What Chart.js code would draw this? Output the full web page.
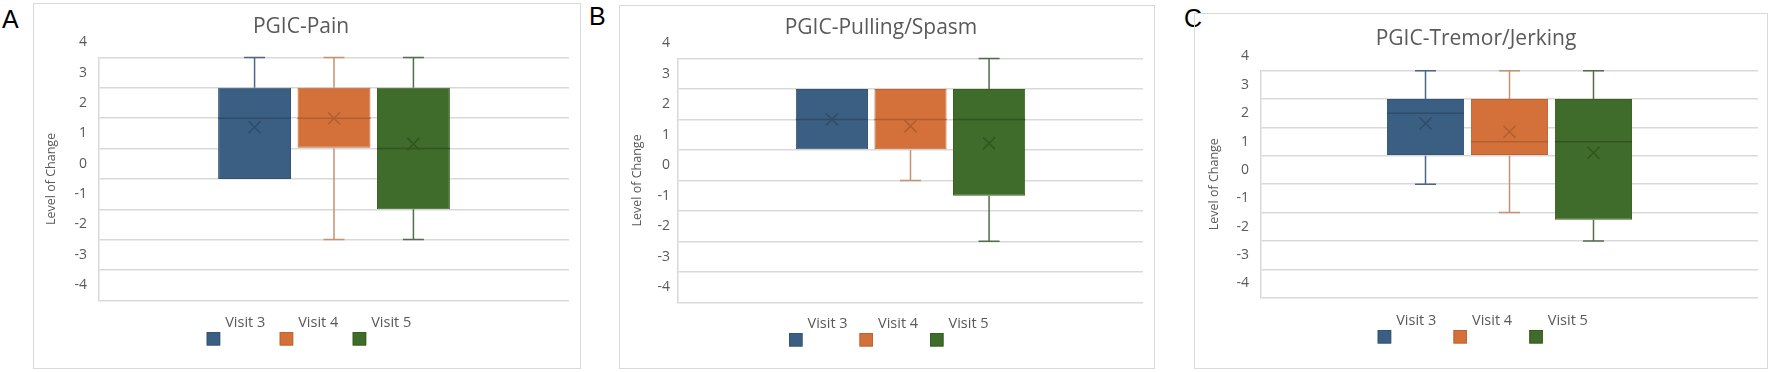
<!DOCTYPE html>
<html>
<head>
<meta charset="utf-8">
<script src="https://cdn.jsdelivr.net/npm/chart.js@4.4.1/dist/chart.umd.min.js"></script>
<style>
  body { margin: 0; background: #fff; width: 1772px; height: 372px; position: relative; overflow: hidden; }
  .panel { position: absolute; box-sizing: border-box; border: 1px solid #d9d9d9; }
  .panel canvas { position: absolute; left: -1px; top: -1px; }
  .tag { position: absolute; font-family: 'Liberation Sans', Arial, sans-serif; font-size: 25px; line-height: 25px; color: #000; }
</style>
</head>
<body>
<div class="tag" style="left:2px;top:7px">A</div>
<div class="tag" style="left:589px;top:4px">B</div>
<div class="tag" style="left:1184px;top:6px">C</div>

<div class="panel" style="left:33px;top:3px;width:548px;height:366px"><canvas id="pain" width="548" height="366"></canvas></div>
<div class="panel" style="left:619px;top:5px;width:536px;height:364px"><canvas id="spasm" width="536" height="364"></canvas></div>
<div class="panel" style="left:1194px;top:13px;width:574px;height:356px"><canvas id="tremor" width="574" height="356"></canvas></div>

<script>
const visits = ['Visit 3', 'Visit 4', 'Visit 5'];
const category = [''];
// labels as printed on the axis, bottom to top
const tickLabels = ['-4', '-3', '-2', '-1', '0', '1', '2', '3', '4'];

// PGIC-Pain
const painMin = [-1, -3, -3];
const painQ1 = [-1, 0, -2];
const painMedian = [1, 1, 0];
const painQ3 = [2, 2, 2];
const painMax = [3, 3, 3];
const painMean = [0.7, 1.0, 0.15];

// PGIC-Pulling/Spasm
const spasmMin = [0, -1, -3];
const spasmQ1 = [0, 0, -1.5];
const spasmMedian = [1, 1, 1];
const spasmQ3 = [2, 2, 2];
const spasmMax = [2, 2, 3];
const spasmMean = [1.0, 0.78, 0.22];

// PGIC-Tremor/Jerking
const tremorMin = [-1, -2, -3];
const tremorQ1 = [0, 0, -2.25];
const tremorMedian = [1.5, 0.5, 0.5];
const tremorQ3 = [2, 2, 2];
const tremorMax = [3, 3, 3];
const tremorMean = [1.14, 0.85, 0.11];

const fills = ['#3b5e83', '#d4703a', '#3f6b2b'];
const borders = ['#345473', '#bf6431', '#37601f'];
const whiskerColors = ['#4c6785', '#c39373', '#526d4b'];
const markColors = ['#2f4c6a', '#b25e2e', '#30551e'];

Chart.defaults.font.family = "'Open Sans', sans-serif";
Chart.defaults.color = '#595959';

// whiskers, median and mean cross for each floating bar
const boxWhiskers = {
  id: 'boxWhiskers',
  afterDatasetsDraw(chart) {
    const ctx = chart.ctx;
    const y = chart.scales.y;
    chart.data.datasets.forEach((ds, i) => {
      const bar = chart.getDatasetMeta(i).data[0];
      const s = ds.stats;
      const x = bar.x, half = bar.width / 2, cap = 10.5;
      const yMin = y.getPixelForValue(s.min), yQ1 = y.getPixelForValue(s.q1);
      const yQ3 = y.getPixelForValue(s.q3), yMax = y.getPixelForValue(s.max);
      ctx.save();
      ctx.lineWidth = 1.5;
      ctx.strokeStyle = ds.whiskerColor;
      ctx.beginPath();
      if (s.max > s.q3) {
        ctx.moveTo(x, yQ3); ctx.lineTo(x, yMax);
        ctx.moveTo(x - cap, yMax); ctx.lineTo(x + cap, yMax);
      }
      if (s.min < s.q1) {
        ctx.moveTo(x, yQ1); ctx.lineTo(x, yMin);
        ctx.moveTo(x - cap, yMin); ctx.lineTo(x + cap, yMin);
      }
      ctx.stroke();
      ctx.strokeStyle = ds.markColor;
      const yMed = y.getPixelForValue(s.median);
      ctx.beginPath();
      ctx.moveTo(x - half, yMed); ctx.lineTo(x + half, yMed);
      ctx.stroke();
      const yMean = y.getPixelForValue(s.mean), m = 6;
      ctx.beginPath();
      ctx.moveTo(x - m, yMean - m); ctx.lineTo(x + m, yMean + m);
      ctx.moveTo(x + m, yMean - m); ctx.lineTo(x - m, yMean + m);
      ctx.stroke();
      ctx.restore();
    });
  }
};

// legend: swatch below, label above to the right
const visitLegend = {
  id: 'visitLegend',
  afterDraw(chart, args, opts) {
    const ctx = chart.ctx;
    ctx.save();
    chart.data.datasets.forEach((ds, i) => {
      const x = opts.left + i * opts.gap;
      ctx.fillStyle = ds.backgroundColor;
      ctx.fillRect(x, opts.top, 13.5, 13.5);
      ctx.strokeStyle = ds.borderColor;
      ctx.lineWidth = 1;
      ctx.strokeRect(x + 0.5, opts.top + 0.5, 12.5, 12.5);
      ctx.fillStyle = '#595959';
      ctx.font = "14.5px 'Open Sans', sans-serif";
      ctx.textAlign = 'left';
      ctx.textBaseline = 'middle';
      ctx.fillText(ds.label, x + 18.5, opts.top - 9);
    });
    ctx.restore();
  }
};

function makePanel(id, title, st, box) {
  const datasets = visits.map((v, i) => ({
    label: v,
    data: [[st.q1[i], st.q3[i]]],
    stats: { min: st.min[i], q1: st.q1[i], median: st.median[i], q3: st.q3[i], max: st.max[i], mean: st.mean[i] },
    backgroundColor: fills[i],
    borderColor: borders[i],
    borderWidth: 1,
    borderSkipped: false,
    whiskerColor: whiskerColors[i],
    markColor: markColors[i],
    barPercentage: 0.918,
    categoryPercentage: 0.507
  }));
  return new Chart(document.getElementById(id), {
    type: 'bar',
    data: { labels: category, datasets: datasets },
    options: {
      responsive: false,
      animation: false,
      layout: { padding: { left: 0, top: 0, right: box.right, bottom: box.bottom } },
      plugins: {
        legend: { display: false },
        tooltip: { enabled: false },
        title: {
          display: true,
          text: title,
          color: '#595959',
          font: { size: 21, weight: 'normal', lineHeight: 1.2 },
          padding: { top: box.titleTop, bottom: box.titleBottom }
        },
        visitLegend: box.legend
      },
      scales: {
        x: { display: false },
        y: {
          min: -5,
          max: 3,
          ticks: {
            stepSize: 1,
            padding: box.tickPad,
            labelOffset: -box.halfStep,
            font: { size: 14 },
            color: '#595959',
            callback: (v, i) => tickLabels[i]
          },
          grid: { color: '#d9d9d9', lineWidth: 1.5, drawTicks: false },
          border: { display: true, color: '#d9d9d9', width: 1.5 },
          title: {
            display: true,
            text: 'Level of Change',
            color: '#595959',
            font: { size: 12.5 },
            padding: { top: box.axisTitlePad, bottom: 0 }
          },
          afterFit: s => { s.width = box.axisWidth; }
        }
      }
    },
    plugins: [boxWhiskers, visitLegend]
  });
}

makePanel('pain', 'PGIC-Pain',
  { min: painMin, q1: painQ1, median: painMedian, q3: painQ3, max: painMax, mean: painMean },
  { right: 12, bottom: 68.7, titleTop: 11.1, titleBottom: 18.2, axisWidth: 66, tickPad: 12, halfStep: 15.2,
    axisTitlePad: 11.2, legend: { left: 173.7, top: 329, gap: 73 } });

makePanel('spasm', 'PGIC-Pulling/Spasm',
  { min: spasmMin, q1: spasmQ1, median: spasmMedian, q3: spasmQ3, max: spasmMax, mean: spasmMean },
  { right: 12, bottom: 66.7, titleTop: 10.7, titleBottom: 17.6, axisWidth: 59, tickPad: 8, halfStep: 15.2,
    axisTitlePad: 11, legend: { left: 170, top: 328, gap: 70.5 } });

makePanel('tremor', 'PGIC-Tremor/Jerking',
  { min: tremorMin, q1: tremorQ1, median: tremorMedian, q3: tremorQ3, max: tremorMax, mean: tremorMean },
  { right: 10, bottom: 71.3, titleTop: 13.7, titleBottom: 18.8, axisWidth: 67, tickPad: 12, halfStep: 14.2,
    axisTitlePad: 12.5, legend: { left: 183.7, top: 317, gap: 75.8 } });
</script>
</body>
</html>
